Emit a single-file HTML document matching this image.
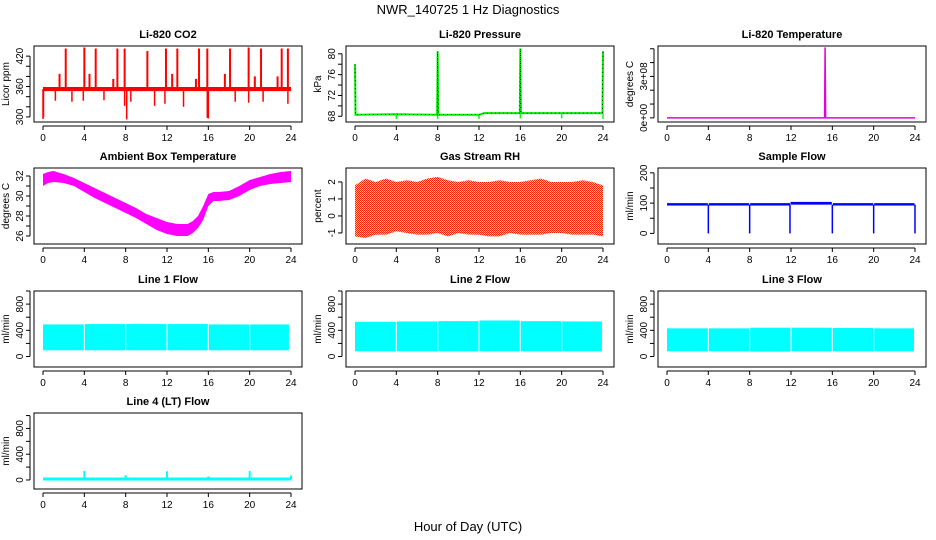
<!DOCTYPE html>
<html><head><meta charset="utf-8">
<style>
body{margin:0;background:#fff;}
svg{display:block;font-family:"Liberation Sans",Arial,sans-serif;}
</style></head>
<body>
<svg id="c" width="936" height="540" viewBox="0 0 936 540">
<defs>
<pattern id="rhpat" width="2" height="2" patternUnits="userSpaceOnUse">
<rect width="2" height="2" fill="#ffd000"/><rect width="1" height="1" fill="#f02000"/><rect x="1" y="1" width="1" height="1" fill="#f02000"/>
</pattern>
</defs>
<text x="468" y="14" text-anchor="middle" font-size="13">NWR_140725  1 Hz Diagnostics</text>
<text x="468" y="531" text-anchor="middle" font-size="13">Hour of Day (UTC)</text>
</svg>
<script>
// ---- data arrays ----
const xTicks=[0,4,8,12,16,20,24];
const co2Base=[0,24];
const co2BaseVal=[355,355];
const co2SpikeHours=[2.2,4.0,5.1,7.2,7.9,10.1,11.9,13.0,15.1,15.9,18.1,19.9,21.1,23.1,23.7,1.6,4.5,6.8,12.5,14.8,17.6,20.5,22.7];
const co2SpikeVals=[435,437,435,435,435,430,435,435,435,435,435,437,435,435,435,385,385,375,385,375,385,380,380];
const co2DipHours=[0.05,1.2,2.8,3.9,5.9,7.9,8.5,10.8,11.8,13.6,15.9,18.6,19.9,21.3,23.7,0.0,8.1,16.0];
const co2DipVals=[300,332,330,332,333,322,330,322,326,320,298,330,328,330,326,296,295,297];
const presHours=[0,0.05,0.1,4,7.95,8,8.05,12,12.5,15.95,16,16.05,20,23.95,24];
const presVals=[78,68.3,68.3,68.4,68.3,80.5,68.3,68.3,68.6,68.6,81,68.6,68.6,68.6,80.5];
const presDipHours=[4,8,12,16,20,24];
const presDipVals=[67.5,67.5,67.5,67.6,67.6,67.5];
const tempHours=[0,15.25,15.3,15.35,24];
const tempVals=[0,0,5.1e8,0,0];
const ambHours=[0,0.5,1,2,3,4,5,6,7,8,9,10,11,12,13,14,14.5,15,15.5,16,16.5,17,18,19,20,21,22,23,24];
const ambUpper=[32.2,32.4,32.5,32.2,31.8,31.3,30.8,30.3,29.8,29.3,28.8,28.2,27.8,27.4,27.2,27.2,27.5,28.0,29.0,30.2,30.4,30.4,30.5,31.0,31.6,31.9,32.2,32.4,32.5];
const ambLower=[31.0,31.3,31.4,31.3,31.0,30.4,29.8,29.3,28.8,28.3,27.8,27.2,26.6,26.2,26.0,26.0,26.3,26.8,27.6,29.0,29.5,29.5,29.6,30.0,30.6,31.0,31.2,31.3,31.4];
const rhHours=[0,1,2,3,4,5,6,7,8,9,10,11,12,13,14,15,16,17,18,19,20,21,22,23,24];
const rhUpper=[1.8,2.2,2.0,2.2,2.0,2.1,2.0,2.2,2.3,2.1,2.0,2.1,2.0,2.0,2.1,2.0,2.0,2.1,2.2,2.0,2.0,2.0,2.1,2.0,1.8];
const rhLower=[-1.2,-1.3,-1.1,-1.1,-0.9,-1.0,-1.1,-1.1,-1.0,-1.2,-1.0,-1.1,-1.1,-1.2,-1.2,-1.0,-1.1,-1.1,-1.1,-1.0,-1.0,-1.1,-1.1,-1.1,-1.2];
const sfSegStart=[0,4.05,8.05,11.95,16.05,20.05];
const sfSegEnd=[3.95,7.95,11.9,15.95,19.95,23.95];
const sfUpper=[100,100,100,104,100,100];
const sfLower=[92,92,92,95,92,92];
const sfDipHours=[4,8,11.9,16,20,24];
const sfDipVals=[0,0,0,0,0,0];
const l1Start=[0,4.05,8.05,12.05,16.05,20.05];
const l1End=[3.95,7.95,11.95,15.95,19.95,23.8];
const l1Upper=[490,495,495,495,490,490];
const l1Lower=[95,95,95,95,95,95];
const l2Start=[0,4.05,8.05,12.05,16.05,20.05];
const l2End=[3.95,7.95,11.95,15.95,19.95,23.9];
const l2Upper=[530,535,540,550,540,535];
const l2Lower=[80,80,80,80,80,80];
const l3Start=[0,4.05,8.05,12.05,16.05,20.05];
const l3End=[3.95,7.95,11.95,15.95,19.95,23.9];
const l3Upper=[430,430,440,440,435,430];
const l3Lower=[80,80,75,80,80,80];
const l4Hours=[0,24];
const l4Vals=[15,15];
const l4SpikeHours=[4,8,12,16,20,24];
const l4SpikeVals=[140,75,135,55,140,70];

// ---- layout ----
const NS="http://www.w3.org/2000/svg";
const svg=document.getElementById('c');
const colL=[34,346,658], W=268;
const rowT=[46,168,291,413], rowB=[122,244,367,489];
function mk(tag,attrs,parent){const e=document.createElementNS(NS,tag);for(const k in attrs)e.setAttribute(k,attrs[k]);(parent||svg).appendChild(e);return e;}
function panel(name,title,c,r,ymin,ymax,yt,yl,ylab){
  const L=colL[c],T=rowT[r],B=rowB[r];
  const g=mk('g',{});
  
  
  const xs=h=>L+9+h*(248/24);
  const ys=v=>B-(v-ymin)/(ymax-ymin)*(B-T);
  const clip=mk('clipPath',{id:'cp'+name},g);mk('rect',{x:L,y:T,width:W,height:B-T},clip);
  const data=mk('g',{'clip-path':'url(#cp'+name+')'},g);
  
  
  const t=mk('text',{x:L+W/2,y:T-8,'text-anchor':'middle','font-size':11,'font-weight':'bold'},g);t.textContent=title;
  
  
  const box=mk('rect',{x:L,y:T,width:W,height:B-T,fill:'none',stroke:'#000','stroke-width':1},g);
  
  
  const xa=mk('g',{},g);
  
  
  mk('line',{x1:xs(0),x2:xs(24),y1:B+4,y2:B+4,stroke:'#000'},xa);
  xTicks.forEach(h=>{mk('line',{x1:xs(h),x2:xs(h),y1:B+4,y2:B+8,stroke:'#000'},xa);
    const tx=mk('text',{x:xs(h),y:B+19,'text-anchor':'middle','font-size':10},xa);tx.textContent=h;});
  const ya=mk('g',{},g);
  
  
  mk('line',{x1:L-4,x2:L-4,y1:ys(yt[0]),y2:ys(yt[yt.length-1]),stroke:'#000'},ya);
  yt.forEach(v=>{mk('line',{x1:L-8,x2:L-4,y1:ys(v),y2:ys(v),stroke:'#000'},ya);});
  yl.forEach(([v,s])=>{const tx=mk('text',{x:L-11,y:ys(v),'text-anchor':'middle','font-size':10,transform:`rotate(-90 ${L-11} ${ys(v)})`},ya);tx.textContent=s;});
  const yt2=mk('text',{x:L-25,y:(T+B)/2,'text-anchor':'middle','font-size':10,transform:`rotate(-90 ${L-25} ${(T+B)/2})`},g);yt2.textContent=ylab;
  
  
  return {xs,ys,data};
}
function line(p,hs,vs,color,w,dash){const a={points:hs.map((h,i)=>p.xs(h)+','+p.ys(vs[i])).join(' '),fill:'none',stroke:color,'stroke-width':w||1};if(dash)a['stroke-dasharray']=dash;mk('polyline',a,p.data);}
function vlines(p,hs,base,vs,color,w){hs.forEach((h,i)=>mk('line',{x1:p.xs(h),x2:p.xs(h),y1:p.ys(base),y2:p.ys(vs[i]),stroke:color,'stroke-width':w||1.5},p.data));}
function band(p,hs,up,lo,fill){const pts=hs.map((h,i)=>p.xs(h)+','+p.ys(up[i])).concat(hs.map((h,i)=>p.xs(h)+','+p.ys(lo[i])).reverse());mk('polygon',{points:pts.join(' '),fill:fill},p.data);}
function blocks(p,st,en,up,lo,fill){st.forEach((s,i)=>mk('rect',{x:p.xs(s),y:p.ys(up[i]),width:p.xs(en[i])-p.xs(s),height:p.ys(lo[i])-p.ys(up[i]),fill:fill},p.data));}

// CO2
let p=panel('co2','Li-820 CO2',0,0,290,440,[300,320,340,360,380,400,420],[[300,'300'],[360,'360'],[420,'420']],'Licor ppm');
vlines(p,co2SpikeHours,355,co2SpikeVals,'#f00',2);
vlines(p,co2DipHours,355,co2DipVals,'#f00',1.5);
band(p,co2Base,[359,359],[351,351],'#f00');
// Pressure
p=panel('pressure','Li-820 Pressure',1,0,66.9,81.5,[68,70,72,74,76,78,80],[[68,'68'],[72,'72'],[76,'76'],[80,'80']],'kPa');
vlines(p,presDipHours,68.4,presDipVals,'#0f0',1.5);
line(p,presHours,presVals,'#00ee00',2);
line(p,presHours,presVals,'#000',0.8,'1 3');
// Temperature
p=panel('li820-temp','Li-820 Temperature',2,0,-0.3e8,5.2e8,[0,1e8,2e8,3e8,4e8,5e8],[[0,'0e+00'],[3e8,'3e+08']],'degrees C');
line(p,tempHours,tempVals,'#e000e0',1.5);
// Ambient
p=panel('ambient','Ambient Box Temperature',0,1,25.2,32.8,[26,27,28,29,30,31,32],[[26,'26'],[28,'28'],[30,'30'],[32,'32']],'degrees C');
band(p,ambHours,ambUpper,ambLower,'#ff00ff');
// RH
p=panel('gas-rh','Gas Stream RH',1,1,-1.65,2.82,[-1,0,1,2],[[-1,'-1'],[0,'0'],[1,'1'],[2,'2']],'percent');
band(p,rhHours,rhUpper,rhLower,'url(#rhpat)');
// Sample flow
p=panel('sample-flow','Sample Flow',2,1,-35,216,[0,50,100,150,200],[[0,'0'],[100,'100'],[200,'200']],'ml/min');
blocks(p,sfSegStart,sfSegEnd,sfUpper,sfLower,'#00f');
vlines(p,sfDipHours,95,sfDipVals,'#00f',1.5);
// Line flows
const lt=[0,200,400,600,800,1000], ll=[[0,'0'],[400,'400'],[800,'800']];
p=panel('line1-flow','Line 1 Flow',0,2,-160,1000,lt,ll,'ml/min');
blocks(p,l1Start,l1End,l1Upper,l1Lower,'#00ffff');
p=panel('line2-flow','Line 2 Flow',1,2,-160,1000,lt,ll,'ml/min');
blocks(p,l2Start,l2End,l2Upper,l2Lower,'#00ffff');
p=panel('line3-flow','Line 3 Flow',2,2,-160,1000,lt,ll,'ml/min');
blocks(p,l3Start,l3End,l3Upper,l3Lower,'#00ffff');
p=panel('line4-flow','Line 4 (LT) Flow',0,3,-140,1040,lt,ll,'ml/min');
line(p,l4Hours,l4Vals,'#00ffff',3);
vlines(p,l4SpikeHours,15,l4SpikeVals,'#00ffff',2);
</script>
</body></html>
